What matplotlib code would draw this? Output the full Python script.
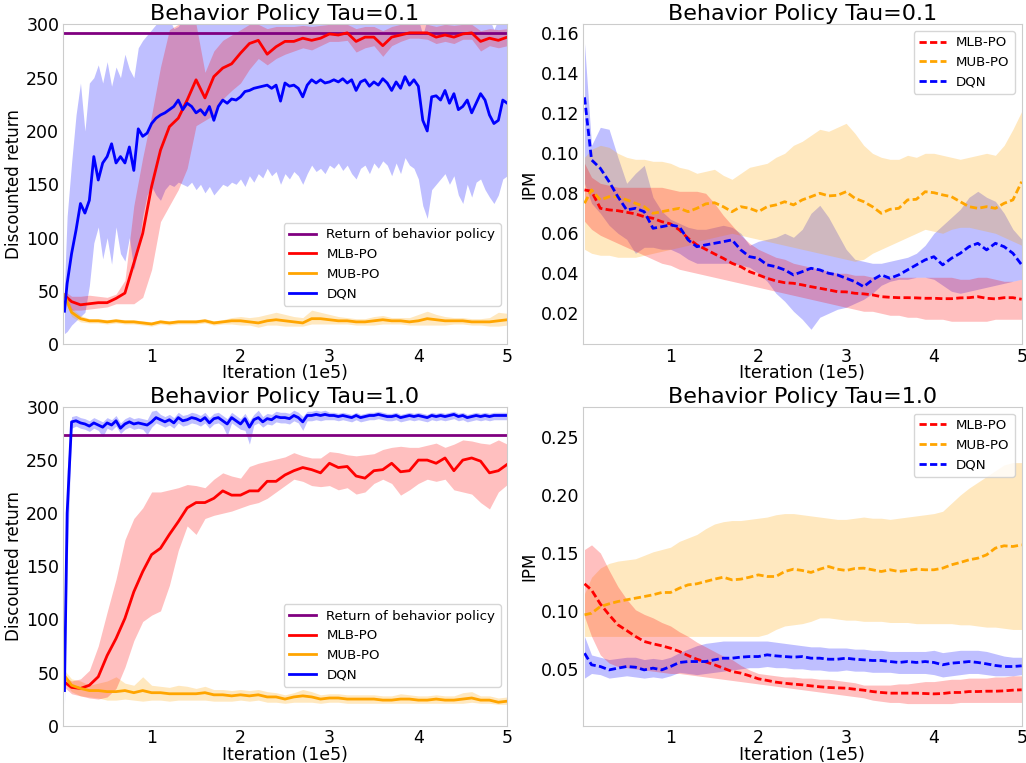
import numpy as np
import matplotlib
matplotlib.use("Agg")
import matplotlib.pyplot as plt

# ---------- DATA ----------
# iteration grid (1e5); first evaluation sits just right of 0
x51 = np.round(np.arange(51) * 0.1, 2)
x51[0] = 0.02
x101 = np.round(np.arange(101) * 0.05, 2)
x101[0] = 0.02

labels = ["MLB-PO", "MUB-PO", "DQN"]
behavior_ret_01 = 292
behavior_ret_10 = 274

# --- return, tau = 0.1 ---
ret01_mlb = [46, 40, 37, 38, 39, 39, 43, 48, 76, 104, 148, 182, 204, 212, 229, 248, 231, 251, 259, 263,
             273, 282, 285, 272, 279, 284, 284, 287, 285, 287, 291, 290, 292, 284, 288, 288, 280, 288, 290, 292,
             292, 292, 288, 290, 288, 291, 292, 284, 287, 285, 288]
ret01_mlb_hi = [50, 45, 45, 46, 45, 44, 47, 60, 130, 175, 215, 260, 295, 300, 300, 300, 255, 275, 285, 290,
                295, 300, 300, 296, 298, 298, 298, 299, 298, 299, 300, 300, 300, 296, 298, 298, 294, 298, 300, 300,
                300, 300, 298, 300, 299, 300, 300, 294, 296, 295, 296]
ret01_mlb_lo = [42, 32, 32, 33, 34, 35, 38, 38, 38, 44, 70, 115, 130, 145, 165, 205, 210, 215, 230, 238,
                245, 258, 268, 262, 268, 272, 275, 278, 276, 280, 284, 284, 285, 274, 278, 280, 270, 280, 284, 287,
                287, 286, 282, 284, 282, 286, 286, 275, 280, 278, 280]
ret01_mub = [46, 30, 24, 22, 22, 21, 22, 21, 21, 20, 19, 21, 20, 21, 21, 21, 22, 20, 21, 22,
             22, 21, 20, 22, 23, 22, 21, 20, 24, 24, 23, 22, 22, 21, 21, 22, 23, 22, 22, 21,
             22, 24, 23, 22, 22, 22, 21, 21, 21, 22, 23]
ret01_mub_lo = [42, 26, 21, 20, 20, 19, 20, 19, 19, 18, 17, 19, 18, 19, 19, 19, 20, 18, 19, 19,
                18, 18, 16, 18, 18, 17, 17, 17, 19, 19, 19, 19, 19, 18, 18, 18, 19, 19, 19, 18,
                18, 18, 18, 18, 19, 19, 18, 18, 17, 17, 18]
ret01_mub_hi = [50, 34, 27, 24, 24, 23, 24, 23, 23, 22, 21, 23, 22, 23, 23, 23, 24, 22, 23, 25,
                26, 25, 26, 28, 30, 28, 26, 25, 32, 30, 28, 26, 25, 24, 24, 26, 27, 25, 25, 25,
                28, 31, 28, 26, 25, 25, 24, 24, 25, 30, 29]
ret01_dqn = [31, 57, 85, 107, 132, 123, 135, 176, 154, 170,
             176, 188, 170, 176, 170, 185, 163, 202, 195, 198,
             207, 212, 215, 217, 220, 223, 229, 220, 226, 223,
             217, 220, 215, 223, 210, 223, 229, 226, 230, 229,
             232, 237, 238, 240, 241, 242, 243, 240, 243, 228,
             245, 242, 243, 240, 232, 243, 248, 245, 248, 245,
             246, 248, 246, 249, 245, 248, 238, 246, 248, 242,
             246, 243, 249, 245, 238, 246, 240, 251, 243, 248,
             242, 210, 200, 232, 233, 229, 238, 226, 235, 220,
             223, 229, 217, 226, 235, 229, 215, 207, 210, 229,
             226]
ret01_dqn_lo = [10, 12, 18, 22, 26, 30, 55, 95, 110, 80,
                100, 75, 110, 85, 78, 100, 70, 90, 120, 140,
                148, 140, 135, 145, 150, 148, 152, 150, 148, 152,
                145, 150, 142, 148, 140, 145, 150, 148, 152, 150,
                155, 148, 158, 152, 160, 156, 165, 158, 162, 150,
                160, 155, 162, 158, 150, 160, 168, 162, 165, 160,
                168, 165, 170, 163, 168, 160, 155, 165, 168, 160,
                170, 165, 172, 168, 158, 170, 160, 175, 168, 165,
                155, 130, 118, 145, 150, 155, 160, 150, 158, 140,
                132, 150, 138, 152, 155, 145, 138, 132, 140, 155,
                158]
ret01_dqn_hi = [55, 120, 170, 215, 245, 200, 245, 250, 262, 245,
                265, 242, 260, 250, 272, 258, 250, 278, 285, 290,
                295, 300, 305, 305, 305, 296, 298, 305, 305, 305,
                305, 305, 305, 305, 305, 305, 305, 305, 305, 305,
                305, 305, 305, 305, 305, 305, 305, 305, 305, 305,
                305, 305, 305, 305, 305, 305, 305, 305, 305, 305,
                305, 305, 305, 305, 305, 305, 305, 305, 305, 305,
                305, 305, 305, 305, 305, 305, 305, 305, 305, 305,
                305, 290, 305, 305, 305, 305, 305, 305, 305, 305,
                305, 305, 305, 305, 305, 305, 305, 295, 305, 305,
                305]

# --- return, tau = 1.0 ---
ret10_mlb = [41, 36, 35, 38, 46, 66, 82, 101, 126, 145, 161, 167, 180, 192, 205, 210, 210, 214, 221, 217,
             217, 221, 221, 230, 230, 236, 240, 243, 241, 238, 247, 243, 244, 235, 233, 240, 241, 247, 239, 240,
             250, 250, 247, 252, 240, 250, 252, 249, 238, 240, 246]
ret10_mlb_lo = [36, 30, 28, 26, 25, 27, 35, 55, 80, 98, 104, 108, 132, 165, 188, 180, 195, 198, 200, 202,
                205, 208, 210, 214, 220, 226, 232, 230, 226, 225, 226, 222, 224, 218, 220, 228, 232, 228, 217, 222,
                228, 232, 230, 232, 222, 220, 218, 210, 204, 220, 227]
ret10_mlb_hi = [46, 42, 44, 52, 75, 107, 138, 175, 195, 205, 220, 220, 222, 224, 227, 226, 224, 232, 238, 235,
                233, 244, 247, 249, 251, 253, 257, 254, 252, 252, 258, 257, 255, 254, 255, 256, 260, 262, 263, 262,
                262, 264, 266, 262, 265, 269, 268, 266, 265, 269, 265]
ret10_mub = [47, 38, 35, 33, 33, 32, 32, 33, 31, 33, 31, 31, 30, 30, 30, 30, 31, 29, 29, 28,
             29, 28, 29, 27, 27, 25, 27, 28, 27, 25, 26, 26, 25, 25, 25, 25, 24, 24, 25, 25,
             24, 24, 25, 24, 24, 25, 26, 24, 24, 22, 23]
ret10_mub_lo = [40, 32, 28, 27, 26, 24, 24, 25, 24, 23, 24, 24, 23, 24, 24, 24, 24, 23, 23, 23,
                24, 23, 24, 22, 22, 21, 22, 22, 22, 21, 22, 22, 21, 21, 21, 21, 21, 21, 21, 21,
                21, 21, 21, 21, 21, 21, 22, 21, 21, 20, 20]
ret10_mub_hi = [52, 44, 42, 38, 40, 42, 46, 40, 38, 46, 38, 37, 36, 38, 37, 35, 37, 34, 34, 33,
                34, 33, 34, 32, 31, 29, 31, 34, 32, 29, 30, 30, 29, 29, 29, 29, 28, 28, 30, 29,
                28, 28, 29, 28, 28, 31, 32, 28, 28, 26, 27]
ret10_dqn = [33, 200, 286, 287, 285, 284, 282, 285, 283, 281,
             285, 283, 287, 280, 284, 286, 284, 285, 284, 283,
             286, 290, 288, 286, 288, 285, 290, 287, 288, 290,
             289, 287, 290, 285, 289, 290, 287, 284, 290, 287,
             284, 289, 281, 288, 290, 286, 289, 288, 291, 290,
             290, 289, 292, 290, 286, 292, 292, 293, 292, 293,
             292, 292, 291, 292, 291, 290, 292, 290, 291, 292,
             292, 293, 292, 291, 291, 292, 290, 291, 292, 291,
             292, 291, 290, 292, 291, 292, 291, 292, 293, 291,
             292, 290, 291, 292, 291, 292, 291, 292, 292, 292,
             292]
ret10_dqn_lo = [20, 150, 280, 282, 280, 279, 277, 280, 278, 272,
                280, 278, 282, 275, 279, 281, 279, 280, 279, 274,
                281, 285, 283, 281, 283, 280, 285, 282, 283, 285,
                284, 282, 285, 280, 284, 285, 282, 273, 285, 282,
                279, 278, 265, 283, 285, 281, 284, 283, 286, 285,
                285, 284, 287, 285, 278, 287, 287, 288, 287, 288,
                288, 288, 287, 288, 287, 286, 288, 286, 287, 288,
                288, 289, 288, 287, 287, 288, 286, 287, 288, 287,
                288, 287, 286, 288, 287, 288, 287, 288, 289, 287,
                288, 286, 287, 288, 287, 288, 287, 288, 288, 288,
                288]
ret10_dqn_hi = [40, 240, 291, 292, 290, 289, 287, 290, 288, 286,
                290, 288, 292, 285, 289, 291, 289, 290, 289, 288,
                296, 297, 293, 291, 293, 290, 295, 292, 293, 295,
                294, 292, 295, 290, 294, 295, 292, 289, 295, 292,
                289, 294, 287, 293, 297, 291, 294, 293, 296, 295,
                295, 294, 297, 295, 291, 296, 296, 297, 296, 297,
                295, 295, 294, 295, 294, 293, 295, 293, 294, 295,
                295, 296, 295, 294, 294, 295, 293, 294, 295, 294,
                295, 294, 293, 295, 294, 295, 294, 295, 296, 294,
                295, 293, 294, 295, 294, 295, 294, 295, 295, 295,
                295]

# --- IPM, tau = 0.1 ---
ipm01_mlb = [0.0817, 0.081, 0.0725, 0.0717, 0.0713, 0.0705, 0.0697, 0.0683, 0.0675, 0.0658,
             0.0647, 0.0617, 0.0575, 0.0542, 0.052, 0.0497, 0.0475, 0.045, 0.0433, 0.0408,
             0.0392, 0.0375, 0.0362, 0.0353, 0.035, 0.0342, 0.0333, 0.0325, 0.0317, 0.0308,
             0.0307, 0.030, 0.0297, 0.0292, 0.0283, 0.028, 0.0278, 0.0278, 0.0277, 0.0275,
             0.0275, 0.0273, 0.0273, 0.0277, 0.0278, 0.0283, 0.0275, 0.0272, 0.0278, 0.0278,
             0.027]
ipm01_mlb_hi = [0.095, 0.088, 0.085, 0.084, 0.083, 0.083, 0.083, 0.083, 0.083, 0.083,
                0.082, 0.081, 0.081, 0.081, 0.080, 0.075, 0.069, 0.064, 0.059, 0.055,
                0.052, 0.050, 0.048, 0.047, 0.045, 0.044, 0.043, 0.042, 0.041, 0.040,
                0.040, 0.039, 0.039, 0.038, 0.038, 0.038, 0.038, 0.038, 0.038, 0.038,
                0.038, 0.038, 0.038, 0.037, 0.037, 0.038, 0.038, 0.037, 0.036, 0.036,
                0.037]
ipm01_mlb_lo = [0.066, 0.062, 0.059, 0.057, 0.055, 0.053, 0.051, 0.049, 0.047, 0.045,
                0.044, 0.042, 0.041, 0.040, 0.039, 0.038, 0.037, 0.036, 0.035, 0.034,
                0.033, 0.032, 0.031, 0.030, 0.029, 0.028, 0.027, 0.026, 0.025, 0.024,
                0.023, 0.022, 0.021, 0.021, 0.020, 0.019, 0.019, 0.018, 0.018, 0.017,
                0.017, 0.017, 0.016, 0.016, 0.016, 0.016, 0.016, 0.017, 0.017, 0.017,
                0.017]
ipm01_mub = [0.075, 0.0817, 0.0767, 0.0783, 0.0783, 0.0767, 0.075, 0.0733, 0.070, 0.0708,
             0.0717, 0.0725, 0.0708, 0.0725, 0.0747, 0.0753, 0.0733, 0.0708, 0.0733, 0.0725,
             0.0708, 0.0733, 0.0742, 0.0758, 0.0742, 0.0767, 0.0783, 0.080, 0.0787, 0.079,
             0.0808, 0.0775, 0.0758, 0.0733, 0.070, 0.072, 0.0725, 0.0767, 0.077, 0.0808,
             0.0803, 0.0792, 0.0783, 0.0758, 0.0733, 0.0725, 0.0733, 0.0725, 0.075, 0.0767,
             0.0858]
ipm01_mub_hi = [0.098, 0.102, 0.104, 0.103, 0.100, 0.098, 0.097, 0.097, 0.096, 0.096,
                0.095, 0.093, 0.092, 0.090, 0.091, 0.092, 0.089, 0.087, 0.090, 0.093,
                0.094, 0.095, 0.098, 0.100, 0.104, 0.106, 0.109, 0.112, 0.111, 0.113,
                0.115, 0.110, 0.104, 0.100, 0.098, 0.097, 0.097, 0.099, 0.098, 0.100,
                0.100, 0.099, 0.098, 0.097, 0.098, 0.099, 0.100, 0.099, 0.104, 0.112,
                0.121]
ipm01_mub_lo = [0.052, 0.050, 0.049, 0.049, 0.048, 0.048, 0.048, 0.049, 0.050, 0.051,
                0.052, 0.053, 0.054, 0.056, 0.057, 0.058, 0.059, 0.060, 0.059, 0.058,
                0.057, 0.056, 0.055, 0.054, 0.053, 0.052, 0.051, 0.050, 0.049, 0.048,
                0.047, 0.046, 0.047, 0.050, 0.052, 0.054, 0.056, 0.058, 0.060, 0.062,
                0.061, 0.060, 0.062, 0.063, 0.063, 0.062, 0.061, 0.060, 0.058, 0.056,
                0.054]
ipm01_dqn = [0.128, 0.0967, 0.0925, 0.0858, 0.0783, 0.0717, 0.0725, 0.0708, 0.0625, 0.0633,
             0.0642, 0.0633, 0.0567, 0.0533, 0.0542, 0.055, 0.0558, 0.0567, 0.0517, 0.0483,
             0.0475, 0.0442, 0.0433, 0.0417, 0.0392, 0.0408, 0.0425, 0.0417, 0.040, 0.0392,
             0.0375, 0.0358, 0.0333, 0.0367, 0.0392, 0.0375, 0.0392, 0.0417, 0.0442, 0.0467,
             0.0483, 0.0442, 0.0475, 0.050, 0.0533, 0.055, 0.0517, 0.055, 0.0533, 0.050,
             0.0442]
ipm01_dqn_hi = [0.155, 0.104, 0.113, 0.112, 0.098, 0.085, 0.090, 0.094, 0.078, 0.071,
                0.067, 0.065, 0.063, 0.062, 0.062, 0.063, 0.064, 0.063, 0.060, 0.054,
                0.056, 0.057, 0.058, 0.060, 0.058, 0.062, 0.070, 0.074, 0.068, 0.060,
                0.052, 0.047, 0.046, 0.045, 0.045, 0.046, 0.047, 0.048, 0.050, 0.054,
                0.060, 0.064, 0.068, 0.072, 0.078, 0.081, 0.078, 0.076, 0.070, 0.062,
                0.057]
ipm01_dqn_lo = [0.085, 0.075, 0.070, 0.064, 0.060, 0.057, 0.050, 0.053, 0.053, 0.052,
                0.052, 0.050, 0.047, 0.045, 0.045, 0.045, 0.045, 0.045, 0.044, 0.043,
                0.040, 0.036, 0.030, 0.026, 0.021, 0.017, 0.012, 0.018, 0.020, 0.022,
                0.023, 0.025, 0.027, 0.030, 0.034, 0.036, 0.037, 0.037, 0.038, 0.038,
                0.037, 0.034, 0.031, 0.030, 0.031, 0.032, 0.033, 0.034, 0.035, 0.036,
                0.037]

# --- IPM, tau = 1.0 ---
ipm10_mlb = [0.1234, 0.118, 0.106, 0.0966, 0.088, 0.0831, 0.078, 0.0736, 0.0716, 0.0699,
             0.0678, 0.065, 0.0615, 0.0583, 0.056, 0.0535, 0.0506, 0.0477, 0.0463, 0.044,
             0.0414, 0.040, 0.0385, 0.0376, 0.0368, 0.0362, 0.0353, 0.0345, 0.0339, 0.0336,
             0.0333, 0.0324, 0.0316, 0.0304, 0.0296, 0.029, 0.029, 0.029, 0.029, 0.0287,
             0.0284, 0.0287, 0.0296, 0.0296, 0.0304, 0.0304, 0.0307, 0.0307, 0.031, 0.0316,
             0.0319]
ipm10_mlb_hi = [0.153, 0.157, 0.150, 0.135, 0.121, 0.110, 0.101, 0.097, 0.094, 0.090,
                0.087, 0.082, 0.078, 0.073, 0.069, 0.065, 0.061, 0.058, 0.053, 0.049,
                0.046, 0.045, 0.044, 0.043, 0.043, 0.042, 0.042, 0.041, 0.041, 0.040,
                0.039, 0.038, 0.036, 0.036, 0.036, 0.036, 0.037, 0.037, 0.038, 0.039,
                0.039, 0.040, 0.041, 0.041, 0.042, 0.042, 0.042, 0.043, 0.043, 0.044,
                0.044]
ipm10_mlb_lo = [0.095, 0.078, 0.062, 0.055, 0.052, 0.051, 0.050, 0.049, 0.048, 0.047,
                0.046, 0.046, 0.045, 0.044, 0.043, 0.042, 0.041, 0.040, 0.039, 0.038,
                0.037, 0.036, 0.035, 0.034, 0.033, 0.032, 0.031, 0.030, 0.029, 0.028,
                0.027, 0.026, 0.025, 0.023, 0.022, 0.021, 0.021, 0.020, 0.020, 0.020,
                0.020, 0.020, 0.020, 0.021, 0.021, 0.021, 0.021, 0.021, 0.021, 0.021,
                0.021]
ipm10_mub = [0.0966, 0.098, 0.1038, 0.1061, 0.1081, 0.1096, 0.111, 0.1124, 0.1139, 0.1159,
             0.1159, 0.1196, 0.1225, 0.1234, 0.1254, 0.1274, 0.1291, 0.1268, 0.1274, 0.1291,
             0.1311, 0.1297, 0.1297, 0.134, 0.136, 0.1349, 0.1332, 0.136, 0.1383, 0.136,
             0.1349, 0.1366, 0.1369, 0.1355, 0.134, 0.1355, 0.134, 0.1349, 0.136, 0.1355,
             0.1355, 0.1369, 0.1398, 0.1418, 0.1441, 0.1455, 0.1484, 0.1542, 0.1562, 0.1556,
             0.157]
ipm10_mub_hi = [0.115, 0.129, 0.137, 0.141, 0.143, 0.144, 0.145, 0.148, 0.151, 0.153,
                0.155, 0.160, 0.163, 0.166, 0.171, 0.175, 0.177, 0.178, 0.178, 0.179,
                0.180, 0.181, 0.183, 0.184, 0.184, 0.183, 0.182, 0.181, 0.180, 0.179,
                0.179, 0.180, 0.181, 0.180, 0.180, 0.179, 0.180, 0.181, 0.182, 0.183,
                0.184, 0.186, 0.193, 0.200, 0.206, 0.211, 0.216, 0.221, 0.226, 0.228,
                0.228]
ipm10_mub_lo = [0.078, 0.078, 0.078, 0.078, 0.078, 0.078, 0.078, 0.078, 0.078, 0.078,
                0.078, 0.078, 0.078, 0.078, 0.078, 0.078, 0.078, 0.078, 0.078, 0.078,
                0.078, 0.080, 0.084, 0.087, 0.088, 0.089, 0.091, 0.094, 0.094, 0.093,
                0.092, 0.092, 0.091, 0.091, 0.091, 0.090, 0.090, 0.090, 0.089, 0.089,
                0.089, 0.089, 0.089, 0.088, 0.088, 0.087, 0.086, 0.086, 0.085, 0.084,
                0.084]
ipm10_dqn = [0.0635, 0.0535, 0.052, 0.0491, 0.0506, 0.052, 0.0514, 0.0491, 0.0506, 0.0491,
             0.052, 0.0555, 0.0563, 0.0563, 0.0563, 0.0578, 0.0592, 0.0592, 0.0601, 0.0606,
             0.0606, 0.0621, 0.0612, 0.0606, 0.0601, 0.0606, 0.0592, 0.0592, 0.0583, 0.0583,
             0.0592, 0.0583, 0.0578, 0.0572, 0.0572, 0.0563, 0.0555, 0.0563, 0.0555, 0.0563,
             0.0555, 0.0535, 0.0549, 0.0555, 0.0563, 0.0555, 0.0543, 0.0529, 0.052, 0.052,
             0.0526]
ipm10_dqn_hi = [0.078, 0.062, 0.060, 0.058, 0.059, 0.060, 0.060, 0.058, 0.059, 0.058,
                0.060, 0.064, 0.067, 0.070, 0.072, 0.073, 0.074, 0.074, 0.074, 0.074,
                0.074, 0.074, 0.073, 0.072, 0.071, 0.070, 0.069, 0.069, 0.068, 0.068,
                0.068, 0.067, 0.067, 0.066, 0.066, 0.065, 0.065, 0.065, 0.065, 0.065,
                0.066, 0.064, 0.065, 0.066, 0.066, 0.066, 0.065, 0.063, 0.061, 0.060,
                0.060]
ipm10_dqn_lo = [0.042, 0.046, 0.045, 0.042, 0.043, 0.044, 0.043, 0.042, 0.043, 0.042,
                0.044, 0.047, 0.046, 0.045, 0.046, 0.047, 0.048, 0.049, 0.050, 0.051,
                0.051, 0.052, 0.051, 0.051, 0.050, 0.050, 0.049, 0.049, 0.048, 0.048,
                0.049, 0.048, 0.048, 0.047, 0.047, 0.047, 0.046, 0.046, 0.046, 0.046,
                0.045, 0.043, 0.044, 0.045, 0.046, 0.046, 0.045, 0.044, 0.044, 0.044,
                0.045]

# ---------- PLOT ----------
colors = ["red", "orange", "blue"]
fig = plt.figure(figsize=(10.26, 7.63), dpi=100)

# axes rectangles (fractions of the figure)
ax_tl = fig.add_axes([0.0611, 0.5488, 0.4333, 0.4193])
ax_tr = fig.add_axes([0.5680, 0.5488, 0.4278, 0.4193])
ax_bl = fig.add_axes([0.0611, 0.0490, 0.4333, 0.4176])
ax_br = fig.add_axes([0.5680, 0.0490, 0.4278, 0.4176])


def style(ax, title, ylabel):
    ax.set_title(title, fontsize=16, pad=3)
    ax.set_xlabel("Iteration (1e5)", fontsize=12.5, labelpad=-1)
    ax.set_ylabel(ylabel, fontsize=12, labelpad=2)
    ax.set_xlim(0, 5)
    ax.set_xticks([1, 2, 3, 4, 5])
    ax.tick_params(length=0, labelsize=12.5, pad=2.5)
    for sp in ax.spines.values():
        sp.set_color("0.8")


def draw_bands(ax, series, dashed):
    # bands first (blue underneath, red on top), then the mean curves
    for (xs, m, lo, hi), c in reversed(list(zip(series, colors))):
        ax.fill_between(xs, lo, hi, color=c, alpha=0.25, lw=0)
    for (xs, m, lo, hi), c, lab in zip(series, colors, labels):
        if dashed:
            ax.plot(xs, m, color=c, lw=2, ls="--", dashes=(2.6, 1.2), label=lab)
        else:
            ax.plot(xs, m, color=c, lw=2, label=lab)


def return_panel(ax, beh, series, title):
    ax.axhline(beh, color="purple", lw=2, label="Return of behavior policy")
    draw_bands(ax, series, False)
    ax.set_ylim(0, 300)
    ax.set_yticks([0, 50, 100, 150, 200, 250, 300])
    style(ax, title, "Discounted return")
    ax.legend(loc="lower right", bbox_to_anchor=(1.0, 0.1), fontsize=9.6)


def ipm_panel(ax, series, title, ylim, yticks):
    draw_bands(ax, series, True)
    ax.set_ylim(*ylim)
    ax.set_yticks(yticks)
    style(ax, title, "IPM")
    ax.legend(loc="upper right", fontsize=9.6)


return_panel(ax_tl, behavior_ret_01, [
    (x51, ret01_mlb, ret01_mlb_lo, ret01_mlb_hi),
    (x51, ret01_mub, ret01_mub_lo, ret01_mub_hi),
    (x101, ret01_dqn, ret01_dqn_lo, ret01_dqn_hi),
], "Behavior Policy Tau=0.1")

return_panel(ax_bl, behavior_ret_10, [
    (x51, ret10_mlb, ret10_mlb_lo, ret10_mlb_hi),
    (x51, ret10_mub, ret10_mub_lo, ret10_mub_hi),
    (x101, ret10_dqn, ret10_dqn_lo, ret10_dqn_hi),
], "Behavior Policy Tau=1.0")

ipm_panel(ax_tr, [
    (x51, ipm01_mlb, ipm01_mlb_lo, ipm01_mlb_hi),
    (x51, ipm01_mub, ipm01_mub_lo, ipm01_mub_hi),
    (x51, ipm01_dqn, ipm01_dqn_lo, ipm01_dqn_hi),
], "Behavior Policy Tau=0.1", (0.0045, 0.1645), [0.02, 0.04, 0.06, 0.08, 0.10, 0.12, 0.14, 0.16])

ipm_panel(ax_br, [
    (x51, ipm10_mlb, ipm10_mlb_lo, ipm10_mlb_hi),
    (x51, ipm10_mub, ipm10_mub_lo, ipm10_mub_hi),
    (x51, ipm10_dqn, ipm10_dqn_lo, ipm10_dqn_hi),
], "Behavior Policy Tau=1.0", (0.001, 0.276), [0.05, 0.10, 0.15, 0.20, 0.25])

fig.savefig("out.png", dpi=100)
